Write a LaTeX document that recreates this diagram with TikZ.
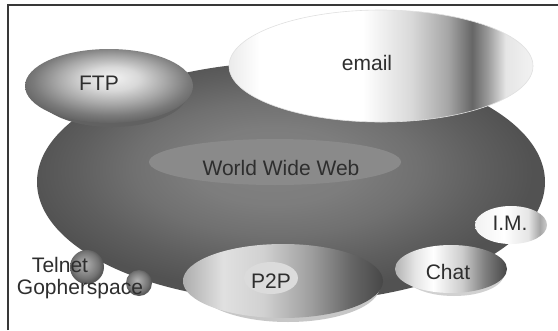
\documentclass[tikz,border=0pt]{standalone}
\usepackage{fontspec}
\setmainfont{Liberation Sans}
% TikZ maps the path's bounding box onto the 25bp..75bp band (radial: radius 25bp)
\pgfdeclareradialshading{wwwshade}{\pgfpoint{-2bp}{4bp}}{color(0bp)=(black!49); color(8bp)=(black!51); color(14bp)=(black!56); color(20bp)=(black!63); color(25bp)=(black!68); color(50bp)=(black!68)}
\pgfdeclareradialshading{ftpshade}{\pgfpoint{1bp}{6bp}}{color(0bp)=(black!5); color(8bp)=(black!15); color(16bp)=(black!34); color(23bp)=(black!52); color(28bp)=(black!62); color(50bp)=(black!62)}
\pgfdeclarehorizontalshading{emailshade}{100bp}{color(0bp)=(black!8); color(25bp)=(black!8); color(30bp)=(white); color(47bp)=(white); color(55bp)=(black!15); color(61bp)=(black!35); color(65bp)=(black!60); color(67.5bp)=(black!40); color(70.5bp)=(black!10); color(75bp)=(black!5); color(100bp)=(black!5)}
\pgfdeclarehorizontalshading{imshade}{100bp}{color(0bp)=(black!5); color(25bp)=(black!5); color(45bp)=(white); color(62bp)=(black!10); color(70bp)=(black!35); color(75bp)=(black!20); color(100bp)=(black!20)}
\pgfdeclarehorizontalshading{chatshade}{100bp}{color(0bp)=(black!30); color(25bp)=(black!30); color(34bp)=(black!10); color(42bp)=(white); color(55bp)=(black!20); color(65bp)=(black!50); color(75bp)=(black!72); color(100bp)=(black!72)}
\pgfdeclarehorizontalshading{ptpshade}{100bp}{color(0bp)=(black!32); color(25bp)=(black!32); color(35bp)=(black!12); color(45bp)=(black!18); color(57bp)=(black!38); color(67bp)=(black!60); color(75bp)=(black!72); color(100bp)=(black!72)}
\pgfdeclareradialshading{sphereshade}{\pgfpoint{-4bp}{5bp}}{color(0bp)=(black!30); color(10bp)=(black!42); color(20bp)=(black!55); color(25bp)=(black!65); color(50bp)=(black!65)}
\tikzset{
  lbl/.style={text=black!82, font=\fontsize{21}{23}\selectfont, inner sep=0pt},
  frameline/.style={draw=black!78, line width=1.3pt},
}
\begin{document}
\begin{tikzpicture}[x=1pt,y=-1pt]
\useasboundingbox (0,0) rectangle (558,330);
\fill[white] (0,0) rectangle (558,330);
% frame
\draw[frameline] (8,330) -- (8,5) -- (558,5);
% big WWW ellipse
\shade[shading=wwwshade] (291,182) ellipse [x radius=254, y radius=120];
\fill[black!46] (275,162) ellipse [x radius=126, y radius=23];
% FTP
\fill[black!62] (112,92) ellipse [x radius=76, y radius=35];
\shade[shading=ftpshade] (109,86) ellipse [x radius=84, y radius=37];
% email
\shade[shading=emailshade] (381,66) ellipse [x radius=152, y radius=56];
\draw[black!12, line width=0.6pt] (381,66) ellipse [x radius=152, y radius=56];
% I.M.
\shade[shading=imshade] (511,225) ellipse [x radius=36, y radius=19];
% Chat
\fill[black!18] (454,274) ellipse [x radius=50, y radius=22];
\shade[shading=chatshade] (451,269) ellipse [x radius=56, y radius=24];
% P2P
\fill[black!22] (288,286) ellipse [x radius=92, y radius=36];
\shade[shading=ptpshade] (283,281) ellipse [x radius=100, y radius=37];
\fill[black!14] (271,278) ellipse [x radius=27, y radius=16];
% spheres
\shade[shading=sphereshade] (87,267) circle [radius=17];
\shade[shading=sphereshade] (139,283) circle [radius=13];
% labels
\node[lbl] (www) at (281,168) {World Wide Web};
\node[lbl] (ftp) at (99,83) {FTP};
\node[lbl] (email) at (367,63) {email};
\node[lbl] (im) at (510,223) {I.M.};
\node[lbl] (chat) at (448,272) {Chat};
\node[lbl] (p2p) at (271,281) {P2P};
\node[lbl] (telnet) at (60,265) {Telnet};
\node[lbl] (gopher) at (80,289) {Gopherspace};
\end{tikzpicture}
\end{document}
